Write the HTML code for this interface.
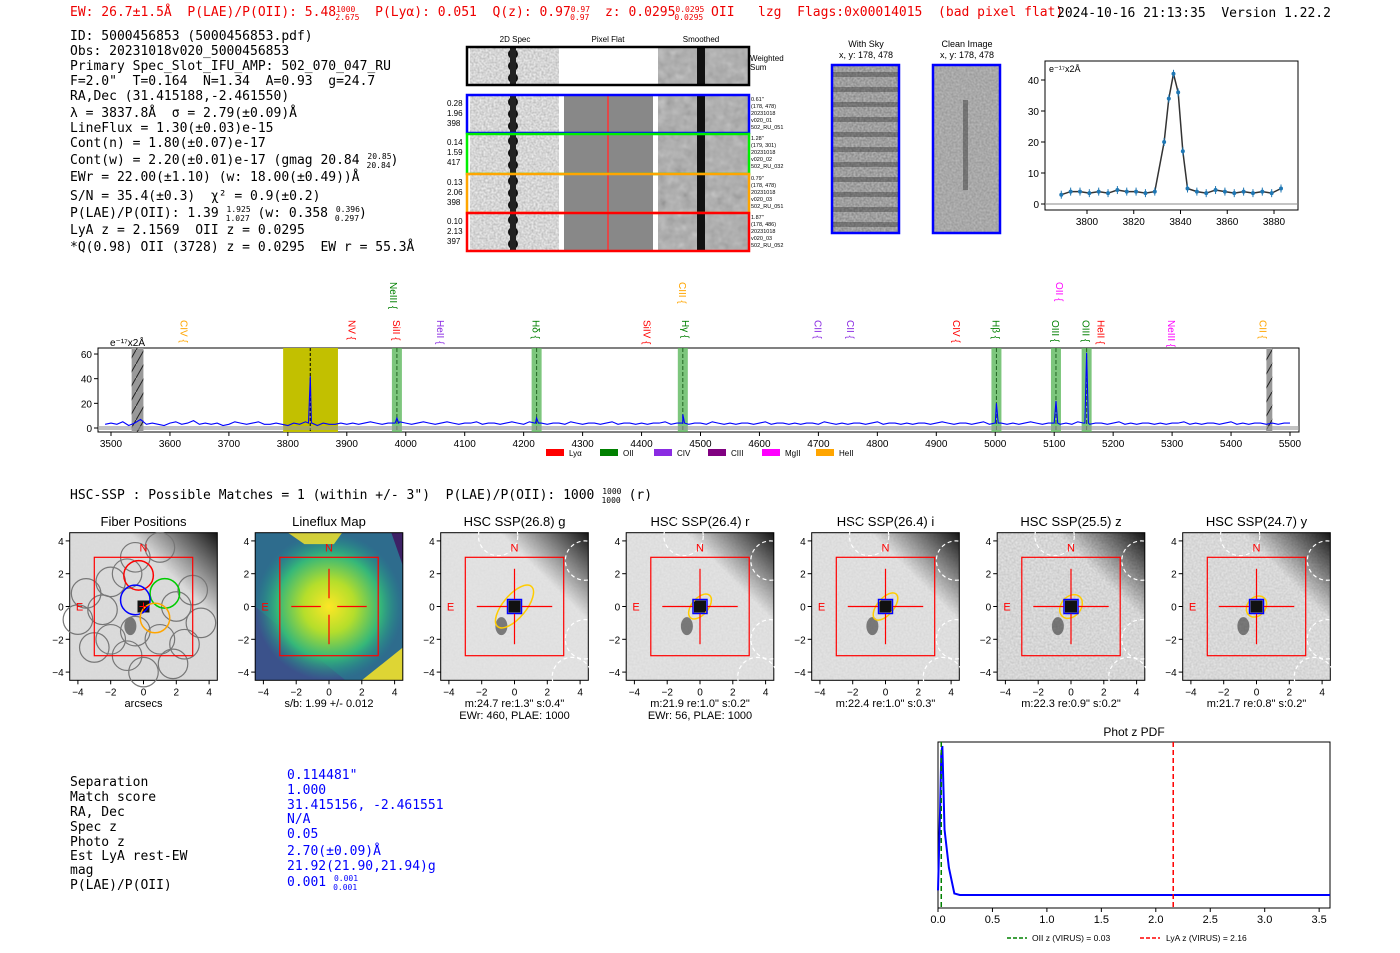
<!DOCTYPE html>
<html><head><meta charset="utf-8"><style>
body{margin:0;background:#fff}
svg{display:block}
text{font-family:"Liberation Sans","DejaVu Sans",sans-serif}
.m text,text.m{font-family:"DejaVu Sans Mono","Liberation Mono",monospace;white-space:pre}
</style></head><body>
<svg id="s" width="1400" height="953" viewBox="0 0 1400 953" xmlns="http://www.w3.org/2000/svg" xml:space="preserve">
<defs>
<filter id="nz" x="0" y="0" width="100%" height="100%"><feTurbulence type="fractalNoise" baseFrequency="0.5" numOctaves="1" seed="3"/><feColorMatrix type="matrix" values="0 0 0 0 0.5 0 0 0 0 0.5 0 0 0 0 0.5 0 0 0 1.6 -0.3"/></filter>
<filter id="nz2" x="0" y="0" width="100%" height="100%"><feTurbulence type="fractalNoise" baseFrequency="0.12" numOctaves="2" seed="5"/><feColorMatrix type="saturate" values="0"/></filter>
<pattern id="hatch" width="8" height="14" patternUnits="userSpaceOnUse"><rect width="8" height="14" fill="#999"/><path d="M0 14 L8 0" stroke="#222" stroke-width="1"/></pattern>
<radialGradient id="yel"><stop offset="0" stop-color="#fde725"/><stop offset="0.35" stop-color="#b5de2b"/><stop offset="0.7" stop-color="#35b779"/><stop offset="1" stop-color="#21918c" stop-opacity="0"/></radialGradient>
<linearGradient id="corner" x1="0" y1="1" x2="1" y2="0"><stop offset="0.7" stop-color="#000" stop-opacity="0"/><stop offset="1" stop-color="#000" stop-opacity="0.9"/></linearGradient>
</defs>

<g class="m" font-size="13">
<text x="70" y="16" fill="#e00">EW: 26.7±1.5Å  P(LAE)/P(OII): 5.48<tspan font-size="8" dy="-4">1000</tspan><tspan font-size="8" dx="-20" dy="8">2.675</tspan><tspan dy="-4">  P(Lyα): 0.051  Q(z): 0.97</tspan><tspan font-size="8" dy="-4">0.97</tspan><tspan font-size="8" dx="-20" dy="8">0.97</tspan><tspan dy="-4">  z: 0.0295</tspan><tspan font-size="8" dy="-4">0.0295</tspan><tspan font-size="8" dx="-30" dy="8">0.0295</tspan><tspan dy="-4"> OII   lzg  Flags:0x00014015  (bad pixel flat)</tspan></text>
<text x="1057" y="17" fill="#000">2024-10-16 21:13:35  Version 1.22.2</text>
</g>

<g class="m" font-size="13" fill="#000">
<text x="70" y="40">ID: 5000456853 (5000456853.pdf)</text>
<text x="70" y="55">Obs: 20231018v020_5000456853</text>
<text x="70" y="70">Primary Spec_Slot_IFU_AMP: 502_070_047_RU</text>
<text x="70" y="85">F=2.0"  T=0.164  N=1.34  A=0.93  g=24.7</text>
<text x="70" y="100">RA,Dec (31.415188,-2.461550)</text>
<text x="70" y="117">λ = 3837.8Å  σ = 2.79(±0.09)Å</text>
<text x="70" y="132">LineFlux = 1.30(±0.03)e-15</text>
<text x="70" y="147">Cont(n) = 1.80(±0.07)e-17</text>
<text x="70" y="164">Cont(w) = 2.20(±0.01)e-17 (gmag 20.84 <tspan font-size="8" dy="-5">20.85</tspan><tspan font-size="8" dx="-25" dy="9">20.84</tspan><tspan dy="-4">)</tspan></text>
<text x="70" y="181">EWr = 22.00(±1.10) (w: 18.00(±0.49))Å</text>
<text x="70" y="200">S/N = 35.4(±0.3)  χ² = 0.9(±0.2)</text>
<text x="70" y="217">P(LAE)/P(OII): 1.39 <tspan font-size="8" dy="-5">1.925</tspan><tspan font-size="8" dx="-25" dy="9">1.027</tspan><tspan dy="-4"> (w: 0.358 </tspan><tspan font-size="8" dy="-5">0.396</tspan><tspan font-size="8" dx="-25" dy="9">0.297</tspan><tspan dy="-4">)</tspan></text>
<text x="70" y="234">LyA z = 2.1569  OII z = 0.0295</text>
<text x="70" y="251">*Q(0.98) OII (3728) z = 0.0295  EW r = 55.3Å</text>
</g>

<g id="cutouts"></g>
<g id="skyimgs"></g>
<g id="inset"></g>
<g id="spec"></g>

<text class="m" x="70" y="499" font-size="13">HSC-SSP : Possible Matches = 1 (within +/- 3")  P(LAE)/P(OII): 1000 <tspan font-size="8" dy="-5">1000</tspan><tspan font-size="8" dx="-20" dy="9">1000</tspan><tspan dy="-4"> (r)</tspan></text>
<g id="panels"></g>

<g class="m" font-size="13">
<text x="70" y="786">Separation</text><text x="287" y="779" fill="#00f">0.114481"</text>
<text x="70" y="801">Match score</text><text x="287" y="794" fill="#00f">1.000</text>
<text x="70" y="816">RA, Dec</text><text x="287" y="809" fill="#00f">31.415156, -2.461551</text>
<text x="70" y="831">Spec z</text><text x="287" y="823" fill="#00f">N/A</text>
<text x="70" y="846">Photo z</text><text x="287" y="838" fill="#00f">0.05</text>
<text x="70" y="860">Est LyA rest-EW</text><text x="287" y="855" fill="#00f">2.70(±0.09)Å</text>
<text x="70" y="874">mag</text><text x="287" y="870" fill="#00f">21.92(21.90,21.94)g</text>
<text x="70" y="889">P(LAE)/P(OII)</text><text x="287" y="886" fill="#00f">0.001 <tspan font-size="8" dy="-5">0.001</tspan><tspan font-size="8" dx="-25" dy="9">0.001</tspan></text>
</g>
<g id="pdf"></g>

<script>
// ---------- data ----------
const specWave0 = 3490, specStep = 10;
const specFlux = [3,4,3,5,2,4,7,3,4,3,2,4,5,3,4,6,3,4,3,4,2,3,5,4,3,4,5,3,3,4,3,2,4,3,5,4,2,4,3,3,4,3,4,3,4,5,4,3,4,4,5,4,3,4,5,4,3,4,5,4,3,4,4,5,3,4,4,3,4,5,4,3,5,4,4,3,4,4,3,5,4,3,4,4,3,4,5,3,4,4,3,4,3,4,4,5,3,4,4,3,4,4,3,5,4,3,4,3,4,4,3,4,5,3,4,4,3,4,3,4,4,3,5,4,3,4,3,4,4,3,4,5,3,4,4,3,4,3,4,4,3,4,5,4,3,4,4,3,4,5,3,4,4,3,4,3,4,5,4,3,4,4,3,4,3,5,4,3,4,4,3,4,5,3,4,3,4,4,3,4,3,4,4,5,3,4,3,4,4,3,4,5,3,4,3,4,4,3,4,3,4,4];
const lineWaves = [3838, 3985, 4222, 4470, 5002, 5103, 5155];
const lineAmps = [42, 8, 8, 11, 20, 22, 61];
const xTicks = [3500,3600,3700,3800,3900,4000,4100,4200,4300,4400,4500,4600,4700,4800,4900,5000,5100,5200,5300,5400,5500];
const yTicks = [0,20,40,60];
const markerNames = ["CIV","NeIII","NV","SiII","HeII","Hδ","SiIV","CIII","Hγ","CII","CII","CIV","Hβ","OIII","OII","OIII","HeII","NeIII","CII"];
const markerWaves = [3625,3980,3910,3985,4060,4222,4410,4470,4475,4700,4755,4935,5002,5103,5110,5155,5180,5300,5455];
const markerColors = ["orange","green","red","red","#8a2be2","green","red","orange","green","#8a2be2","#8a2be2","red","green","green","magenta","green","red","magenta","orange"];
const markerHigh = [0,1,0,0,0,0,0,1,0,0,0,0,0,0,1,0,0,0,0];
const greenBands = [3985,4222,4470,5002,5103,5155];

const insetWave = [3789,3793,3797,3801,3805,3809,3813,3817,3821,3825,3829,3833,3835,3837,3839,3841,3843,3847,3851,3855,3859,3863,3867,3871,3875,3879,3883];
const insetFlux = [3,4,4,3.5,4,3.5,4.5,4,4,3.5,4,20,34,42,36,17,5,4,3.5,4.5,4,3.5,4,3.5,4,3.5,5];
const insetXTicks=[3800,3820,3840,3860,3880], insetYTicks=[0,10,20,30,40];

const pdfZ = [0.0,0.02,0.03,0.04,0.06,0.1,0.15,0.2,0.5,1,2,3,3.6];
const pdfP = [0.05,0.6,0.95,1.0,0.45,0.2,0.03,0.02,0.02,0.02,0.02,0.02,0.02];
const pdfTicks=[0,0.5,1,1.5,2,2.5,3,3.5];

const panelTitles=["Fiber Positions","Lineflux Map","HSC SSP(26.8) g","HSC SSP(26.4) r","HSC SSP(26.4) i","HSC SSP(25.5) z","HSC SSP(24.7) y"];
const panelSub1=["arcsecs","s/b: 1.99 +/- 0.012","m:24.7  re:1.3\"  s:0.4\"","m:21.9  re:1.0\"  s:0.2\"","m:22.4  re:1.0\"  s:0.3\"","m:22.3  re:0.9\"  s:0.2\"","m:21.7  re:0.8\"  s:0.2\""];
const panelSub2=["","","EWr: 460, PLAE: 1000","EWr: 56, PLAE: 1000","","",""];
const ellA=[0,0,1.6,0.9,1.0,0.8,0.7], ellB=[0,0,0.7,0.5,0.5,0.6,0.55];
const noiseLvl=[0.1,0,0.15,0.25,0.3,0.7,0.6];

const NS="http://www.w3.org/2000/svg";
function el(tag,attrs,parent,txt){const e=document.createElementNS(NS,tag);for(const k in attrs)e.setAttribute(k,attrs[k]);if(txt!==undefined)e.textContent=txt;parent.appendChild(e);return e;}

// ---------- full spectrum ----------
(function(){
const g=document.getElementById('spec');
const X=w=>111+(w-3500)*0.5895, Y=v=>428-v*1.233;
const box=el('rect',{x:98,y:348,width:1201,height:84,fill:'#fff',stroke:'#000','stroke-width':1},g);


el('rect',{x:X(3535),y:348,width:X(3555)-X(3535),height:84,fill:'url(#hatch)'},g);
el('rect',{x:X(5460),y:348,width:X(5470)-X(5460),height:84,fill:'url(#hatch)'},g);
el('rect',{x:X(3792),y:348,width:X(3885)-X(3792),height:84,fill:'#c2c000'},g);
el('line',{x1:X(3838),x2:X(3838),y1:348,y2:432,stroke:'#000','stroke-dasharray':'3,2'},g);
greenBands.forEach(w=>{
 const r=el('rect',{x:X(w)-5,y:348,width:10,height:84,fill:'#5cb85c','fill-opacity':0.8},g);
 
 
 el('line',{x1:X(w),x2:X(w),y1:348,y2:432,stroke:'#226622','stroke-dasharray':'4,2'},g);
});
el('rect',{x:98,y:426,width:1201,height:4,fill:'#999','fill-opacity':0.6},g);
let pts=[];
const all=specFlux.map((f,i)=>[specWave0+i*specStep,f]);
lineWaves.forEach((w,i)=>{all.push([w-3,4]);all.push([w,lineAmps[i]]);all.push([w+3,4]);});
all.sort((a,b)=>a[0]-b[0]);
all.forEach(p=>{if(p[0]>=3485&&p[0]<=5515)pts.push(X(p[0]).toFixed(1)+','+Y(p[1]).toFixed(1));});
const pl=el('polyline',{points:pts.join(' '),fill:'none',stroke:'#00f','stroke-width':1.1},g);


xTicks.forEach(t=>{el('line',{x1:X(t),x2:X(t),y1:432,y2:436,stroke:'#000'},g);const tx=el('text',{x:X(t),y:447,'font-size':10,'text-anchor':'middle'},g,t);});
yTicks.forEach(t=>{el('line',{x1:94,x2:98,y1:Y(t),y2:Y(t),stroke:'#000'},g);const tx=el('text',{x:92,y:Y(t)+4,'font-size':10,'text-anchor':'end'},g,t);});
el('text',{x:110,y:346,'font-size':10},g,'e⁻¹⁷x2Å');
markerNames.forEach((n,i)=>{
 const x=X(markerWaves[i]); const y0=markerHigh[i]?282:320;
 const t=el('text',{transform:`translate(${x-4},${y0}) rotate(90)`,'font-size':10,fill:markerColors[i]},g,n+' {');
 
 
});
const leg=[["Lyα","red"],["OII","green"],["CIV","#8a2be2"],["CIII","purple"],["MgII","magenta"],["HeII","orange"]];
leg.forEach((l,i)=>{const x=546+i*54;el('rect',{x:x,y:449,width:18,height:7,fill:l[1]},g);const t=el('text',{x:x+23,y:456,'font-size':8},g,l[0]);});
})();

// ---------- cutouts ----------
(function(){
const g=document.getElementById('cutouts');
el('text',{x:515,y:42,'font-size':8,'text-anchor':'middle'},g,'2D Spec');
el('text',{x:608,y:42,'font-size':8,'text-anchor':'middle'},g,'Pixel Flat');
el('text',{x:701,y:42,'font-size':8,'text-anchor':'middle'},g,'Smoothed');
function row(y,h,col,flat,lbl,side){
 el('rect',{x:470,y:y,width:89,height:h,fill:'#eee'},g);
 el('rect',{x:470,y:y,width:89,height:h,filter:'url(#nz)'},g);
 for(let k=0;k<3;k++)el('ellipse',{cx:513,cy:y+6+k*12,rx:5,ry:5,fill:'#111'},g);
 el('rect',{x:510,y:y,width:6,height:h,fill:'#222'},g);
 if(flat){el('rect',{x:564,y:y,width:89,height:h,fill:'#888'},g);el('line',{x1:608,x2:608,y1:y,y2:y+h,stroke:'#f33','stroke-width':1.5},g);}
 el('rect',{x:658,y:y,width:90,height:h,fill:'#aaa'},g);
 el('rect',{x:658,y:y,width:90,height:h,filter:'url(#nz2)',opacity:0.6},g);
 el('rect',{x:697,y:y,width:8,height:h,fill:'#111'},g);
 const r=el('rect',{x:467,y:y-1,width:282,height:h+2,fill:'none',stroke:col,'stroke-width':2.5},g);
 
 
 if(lbl)lbl.forEach((s,i)=>el('text',{x:447,y:y+10+i*10,'font-size':8},g,s));
 if(side)side.forEach((s,i)=>el('text',{x:751,y:y+5+i*7,'font-size':5.5},g,s));
}
row(48,36,'#000',false,null,null);
el('text',{x:750,y:61,'font-size':8},g,'Weighted');el('text',{x:750,y:70,'font-size':8},g,'Sum');
row(96,36,'#00f',true,['0.28','1.96','398'],['0.61"','(178, 478)','20231018','v020_01','502_RU_051']);
row(135,38,'#0e0',true,['0.14','1.59','417'],['1.28"','(179, 301)','20231018','v020_02','502_RU_032']);
row(175,37,'orange',true,['0.13','2.06','398'],['0.79"','(178, 478)','20231018','v020_03','502_RU_051']);
row(214,36,'#f00',true,['0.10','2.13','397'],['1.87"','(178, 486)','20231018','v020_03','502_RU_052']);
const gs=document.getElementById('skyimgs');
[[832,'With Sky'],[933,'Clean Image']].forEach((a,i)=>{
 el('text',{x:a[0]+34,y:47,'font-size':9,'text-anchor':'middle'},gs,a[1]);
 el('text',{x:a[0]+34,y:58,'font-size':9,'text-anchor':'middle'},gs,'x, y: 178, 478');
 el('rect',{x:a[0],y:65,width:67,height:168,fill:i?'#999':'#888'},gs);
 el('rect',{x:a[0],y:65,width:67,height:168,filter:'url(#nz)',opacity:0.9},gs);
 if(!i){for(let k=0;k<11;k++)el('rect',{x:a[0],y:72+k*15,width:67,height:5,fill:'#222',opacity:0.35},gs);}
 else el('rect',{x:a[0]+30,y:100,width:5,height:90,fill:'#222',opacity:0.4},gs);
 const r=el('rect',{x:a[0],y:65,width:67,height:168,fill:'none',stroke:'#00f','stroke-width':2.5},gs);
 
 
});
})();

// ---------- inset ----------
(function(){
const g=document.getElementById('inset');
const X=w=>1087+(w-3800)*2.3375, Y=v=>204-v*3.1;
el('rect',{x:1045,y:61,width:253,height:149,fill:'#fff',stroke:'#000'},g);
el('line',{x1:1045,x2:1298,y1:Y(0),y2:Y(0),stroke:'#888'},g);
el('polyline',{points:insetWave.map((w,i)=>X(w)+','+Y(insetFlux[i])).join(' '),fill:'none',stroke:'#333','stroke-width':1.5},g);
insetWave.forEach((w,i)=>{
 const c=el('circle',{cx:X(w),cy:Y(insetFlux[i]),r:2,fill:'#1f77b4'},g);
 
 
 el('line',{x1:X(w),x2:X(w),y1:Y(insetFlux[i])-4,y2:Y(insetFlux[i])+4,stroke:'#1f77b4'},g);
});
insetXTicks.forEach(t=>{el('line',{x1:X(t),x2:X(t),y1:210,y2:214,stroke:'#000'},g);el('text',{x:X(t),y:225,'font-size':10,'text-anchor':'middle'},g,t);});
insetYTicks.forEach(t=>{el('line',{x1:1041,x2:1045,y1:Y(t),y2:Y(t),stroke:'#000'},g);el('text',{x:1039,y:Y(t)+4,'font-size':10,'text-anchor':'end'},g,t);});
el('text',{x:1049,y:72,'font-size':9},g,'e⁻¹⁷x2Å');
})();

// ---------- panels ----------
(function(){
const g=document.getElementById('panels');
const cx0=[143.5,329,514.5,700,885.5,1071,1256.5], s=16.4, cy=606.5;
panelTitles.forEach((title,i)=>{
 const cx=cx0[i], X=u=>cx+u*s, Y=u=>cy-u*s;
 const pg=el('g',{},g);
 
 
 el('text',{x:cx,y:526,'font-size':13,'text-anchor':'middle'},pg,title);
 const x0=X(-4.5),y0=Y(4.5),w=9*s;
 if(i==1){
  el('rect',{x:x0,y:y0,width:w,height:w,fill:'#3b528b'},pg);
  el('polygon',{points:`${X(-4.5)},${Y(4.5)} ${X(4.5)},${Y(4.5)} ${X(4.5)},${Y(-4.5)} ${X(1)},${Y(-4.5)} ${X(-4.5)},${Y(0)}`,fill:'#2a788e',opacity:0.7},pg);
  el('rect',{x:x0,y:y0,width:w,height:w,fill:'url(#yel)'},pg);
  el('polygon',{points:`${X(-2.5)},${y0} ${X(0.8)},${y0} ${X(0.3)},${Y(3.8)} ${X(-1.5)},${Y(3.8)}`,fill:'#fde725',opacity:0.8},pg);
  el('polygon',{points:`${X(2)},${Y(-4.5)} ${X(4.5)},${Y(-4.5)} ${X(4.5)},${Y(-2.5)}`,fill:'#fde725',opacity:0.85},pg);
  el('polygon',{points:`${X(3.8)},${y0} ${X(4.5)},${y0} ${X(4.5)},${Y(2.5)}`,fill:'#440154',opacity:0.7},pg);
 } else {
  el('rect',{x:x0,y:y0,width:w,height:w,fill:i==0?'#dcdcdc':'#e4e4e4'},pg);
  if(noiseLvl[i]>0.05)el('rect',{x:x0,y:y0,width:w,height:w,filter:'url(#nz)',opacity:noiseLvl[i]},pg);
  el('rect',{x:x0,y:y0,width:w,height:w,fill:'url(#corner)'},pg);
  el('ellipse',{cx:X(-0.8),cy:Y(-1.2),rx:6,ry:9,fill:'#333',opacity:0.6},pg);
  el('rect',{x:X(0)-6,y:Y(0)-6,width:12,height:12,fill:'#111'},pg);
 }
 el('rect',{x:x0,y:y0,width:w,height:w,fill:'none',stroke:'#000'},pg);
 if(i==0){
  const fib=[[-0.5,3],[1,3.6],[-2,1.5],[-1,2],[-3.5,0.8],[3,1],[-2.5,-0.2],[2,0],[-4,-0.8],[3.5,-1],[-2,-2],[-0.5,-1.5],[1,-2],[2.5,-2.3],[-1,-3],[0,-4],[1.8,-3.5],[-3,-2.5]];
  fib.forEach(f=>el('circle',{cx:X(f[0]),cy:Y(f[1]),r:0.9*s,fill:'none',stroke:'#777','stroke-width':1.2},pg));
  [[-0.3,1.9,'red'],[1.3,0.8,'#0c0'],[-0.5,0.4,'blue'],[0.7,-0.7,'orange']].forEach(f=>el('circle',{cx:X(f[0]),cy:Y(f[1]),r:0.9*s,fill:'none',stroke:f[2],'stroke-width':1.5},pg));
 }
 if(i>=2){
  [[-1,4.3],[4.3,2.8],[4.3,-2],[3.5,-4.3]].forEach(c=>el('circle',{cx:X(c[0]),cy:Y(c[1]),r:1.2*s,fill:'none',stroke:'#fff','stroke-dasharray':'4,3','stroke-width':1.2},pg));
  const e=el('ellipse',{cx:X(0),cy:Y(0),rx:ellA[i]*s,ry:ellB[i]*s,transform:`rotate(-50 ${X(0)} ${Y(0)})`,fill:'none',stroke:'#fc0','stroke-width':1.5},pg);
  
  
  el('rect',{x:X(0)-7,y:Y(0)-7,width:14,height:14,fill:'none',stroke:'#00f','stroke-width':1.5},pg);
 }
 el('rect',{x:X(-3),y:Y(3),width:6*s,height:6*s,fill:'none',stroke:'#f00','stroke-width':1.2},pg);
 if(i==0){el('line',{x1:X(0)-4,x2:X(0)+4,y1:Y(0),y2:Y(0),stroke:'red'},pg);el('line',{x1:X(0),x2:X(0),y1:Y(0)-4,y2:Y(0)+4,stroke:'red'},pg);}
 else{
  const a=2.3, gap=i==1?0.5:0.45;
  el('line',{x1:X(-a),x2:X(-gap),y1:Y(0),y2:Y(0),stroke:'red','stroke-width':1.2},pg);
  el('line',{x1:X(gap),x2:X(a),y1:Y(0),y2:Y(0),stroke:'red','stroke-width':1.2},pg);
  el('line',{x1:X(0),x2:X(0),y1:Y(a),y2:Y(gap),stroke:'red','stroke-width':1.2},pg);
  el('line',{x1:X(0),x2:X(0),y1:Y(-gap),y2:Y(-a),stroke:'red','stroke-width':1.2},pg);
 }
 el('text',{x:X(0),y:Y(3.6)+4,'font-size':11,fill:'red','text-anchor':'middle'},pg,'N');
 el('text',{x:X(-3.9),y:Y(0)+4,'font-size':11,fill:'red','text-anchor':'middle'},pg,'E');
 [-4,-2,0,2,4].forEach(t=>{
  el('line',{x1:X(t),x2:X(t),y1:y0+w,y2:y0+w+4,stroke:'#000'},pg);
  el('text',{x:X(t),y:y0+w+15,'font-size':10,'text-anchor':'middle'},pg,t<0?'−'+(-t):t);
  el('line',{x1:x0-4,x2:x0,y1:Y(t),y2:Y(t),stroke:'#000'},pg);
  el('text',{x:x0-6,y:Y(t)+4,'font-size':10,'text-anchor':'end'},pg,t<0?'−'+(-t):t);
 });
 el('text',{x:cx,y:707,'font-size':11,'text-anchor':'middle'},pg,panelSub1[i]);
 if(panelSub2[i])el('text',{x:cx,y:719,'font-size':11,'text-anchor':'middle'},pg,panelSub2[i]);
});
})();

// ---------- photz pdf ----------
(function(){
const g=document.getElementById('pdf');
const X=z=>938+z*108.9, Y=p=>898-p*152;
el('text',{x:1134,y:736,'font-size':12,'text-anchor':'middle'},g,'Phot z PDF');
el('rect',{x:938,y:742,width:392,height:166,fill:'#fff',stroke:'#000'},g);
const l=el('polyline',{points:pdfZ.map((z,i)=>X(z)+','+Y(pdfP[i])).join(' '),fill:'none',stroke:'#00f','stroke-width':2},g);


el('line',{x1:X(0.03),x2:X(0.03),y1:742,y2:908,stroke:'green','stroke-dasharray':'5,3','stroke-width':1.5},g);
el('line',{x1:X(2.16),x2:X(2.16),y1:742,y2:908,stroke:'red','stroke-dasharray':'5,3','stroke-width':1.5},g);
pdfTicks.forEach(t=>{el('line',{x1:X(t),x2:X(t),y1:908,y2:912,stroke:'#000'},g);el('text',{x:X(t),y:923,'font-size':11,'text-anchor':'middle'},g,t.toFixed(1));});
el('line',{x1:1007,x2:1027,y1:938,y2:938,stroke:'green','stroke-dasharray':'4,2','stroke-width':1.5},g);
el('text',{x:1032,y:941,'font-size':8.5},g,'OII z (VIRUS) = 0.03');
el('line',{x1:1140,x2:1160,y1:938,y2:938,stroke:'red','stroke-dasharray':'4,2','stroke-width':1.5},g);
el('text',{x:1166,y:941,'font-size':8.5},g,'LyA z (VIRUS) = 2.16');
})();
</script>
</svg>
</body></html>
